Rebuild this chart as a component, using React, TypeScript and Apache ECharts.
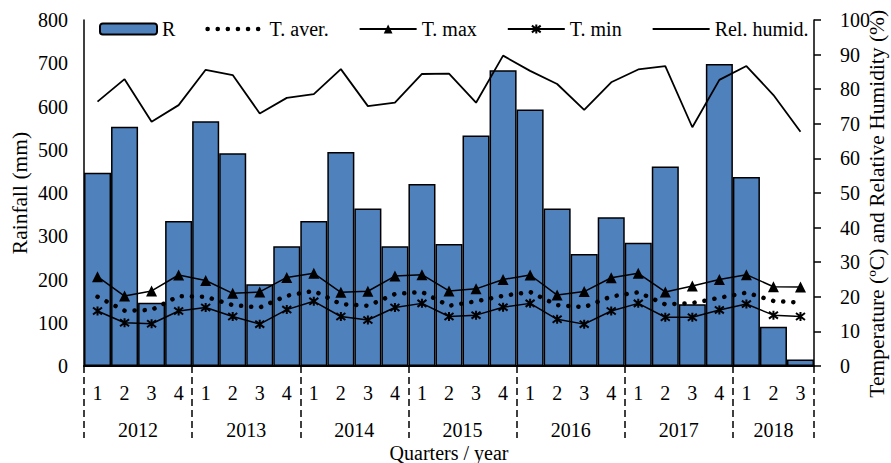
import React, { useEffect, useRef } from "react";
import * as echarts from "echarts";

const years = ["2012", "2013", "2014", "2015", "2016", "2017", "2018"];
const quartersPerYear = [4, 4, 4, 4, 4, 4, 3];
const categories: string[] = [];
years.forEach((y, i) => {
  for (let q = 1; q <= quartersPerYear[i]; q++) categories.push(y + " Q" + q);
});

const rainfall = [447, 553, 146, 335, 566, 492, 189, 277, 335, 495, 364, 277, 421, 282, 533, 684, 593, 364, 259, 344, 285, 461, 143, 698, 437, 91, 15];
const tAver = [20.0, 16.0, 16.2, 20.2, 20.0, 17.6, 16.9, 20.3, 21.7, 17.9, 17.4, 20.8, 21.4, 17.4, 18.7, 20.3, 21.4, 17.6, 17.0, 20.1, 21.3, 17.8, 18.2, 19.7, 21.2, 18.8, 18.3];
const tMax = [25.8, 20.2, 21.7, 26.3, 24.7, 21.0, 21.4, 25.6, 26.8, 21.3, 21.6, 26.0, 26.4, 21.7, 22.3, 25.0, 26.3, 20.5, 21.5, 25.5, 26.8, 21.4, 23.1, 25.0, 26.4, 22.9, 22.8];
const tMin = [15.9, 12.5, 12.2, 15.9, 16.9, 14.3, 12.1, 16.3, 18.7, 14.3, 13.3, 16.9, 18.1, 14.3, 14.7, 17.0, 18.1, 13.5, 12.1, 15.9, 18.1, 14.1, 14.1, 16.2, 17.9, 14.7, 14.3];
const relHumid = [76.4, 82.9, 70.6, 75.4, 85.6, 84.1, 73.0, 77.5, 78.6, 85.8, 75.1, 76.1, 84.4, 84.5, 76.1, 89.7, 85.3, 81.5, 74.0, 82.0, 85.7, 86.7, 69.0, 82.7, 86.7, 78.3, 67.7];

// year boundaries and year label centers (in quarter units)
const boundaries: number[] = [0];
const yearCenters: number[] = [];
{
  let acc = 0;
  quartersPerYear.forEach((n) => {
    yearCenters.push(acc + n / 2);
    acc += n;
    boundaries.push(acc);
  });
}

const FONT = "Liberation Serif";
const STAR = "path://M0,0L10,10M10,0L0,10M5,-1.5L5,11.5";
const noSymbol = { color: "rgba(0,0,0,0)", borderColor: "rgba(0,0,0,0)", borderWidth: 0 };
const dotLine = { color: "#000", width: 4.5, type: [0.1, 10], cap: "round" };

export default function App() {
  const ref = useRef<HTMLDivElement>(null);
  useEffect(() => {
    if (!ref.current) return;
    const chart = echarts.init(ref.current, null, { renderer: "svg" });
    const txt = { fontFamily: FONT, fontSize: 20, color: "#000" };
    chart.setOption({
      animation: false,
      textStyle: { fontFamily: FONT, color: "#000" },
      grid: { left: 84, right: 77, top: 20, bottom: 97, containLabel: false, outerBoundsMode: "none" },
      legend: {
        left: 94,
        top: 14,
        itemWidth: 57,
        itemHeight: 11,
        itemGap: 30,
        textStyle: { ...txt },
        data: [
          { name: "R" },
          { name: "T. aver.", itemStyle: noSymbol, lineStyle: dotLine },
          { name: "T. max" },
          { name: "T. min" },
          { name: "Rel. humid.", itemStyle: noSymbol },
        ],
      },
      xAxis: [
        {
          type: "category",
          data: categories,
          position: "bottom",
          axisLine: { show: true, lineStyle: { color: "#000", width: 2 } },
          axisTick: { show: false },
          axisLabel: {
            ...txt,
            margin: 17,
            interval: 0,
            formatter: (v: string) => v.split(" Q")[1],
          },
          name: "Quarters / year",
          nameLocation: "middle",
          nameGap: 77,
          nameMoveOverlap: false,
          nameTextStyle: { ...txt },
          splitLine: { show: false },
        },
        {
          type: "value",
          min: 0,
          max: categories.length,
          position: "bottom",
          axisLine: { show: false },
          axisTick: {
            show: true,
            customValues: boundaries,
            length: 72,
            lineStyle: { color: "#000", width: 1.5, type: [7, 4] },
          },
          axisLabel: {
            ...txt,
            margin: 54,
            customValues: yearCenters,
            formatter: (v: number) => {
              const i = yearCenters.findIndex((c) => Math.abs(c - v) < 1e-6);
              return i >= 0 ? years[i] : "";
            },
          },
          splitLine: { show: false },
        },
      ],
      yAxis: [
        {
          type: "value",
          min: 0,
          max: 800,
          interval: 100,
          position: "left",
          name: "Rainfall (mm)",
          nameLocation: "middle",
          nameGap: 53,
          nameMoveOverlap: false,
          nameRotate: 90,
          nameTextStyle: { ...txt, fontSize: 21.5 },
          axisLine: { show: true, lineStyle: { color: "#000", width: 1.5 } },
          axisTick: { show: false },
          axisLabel: { ...txt, margin: 16 },
          splitLine: { show: false },
        },
        {
          type: "value",
          min: 0,
          max: 100,
          interval: 10,
          position: "right",
          alignTicks: false,
          name: "Temperature (ºC) and Relative Humidity (%)\u00A0\u00A0\u00A0\u00A0",
          nameLocation: "middle",
          nameGap: 52,
          nameMoveOverlap: false,
          nameRotate: 90,
          nameTextStyle: { ...txt, fontSize: 21.5 },
          axisLine: { show: true, lineStyle: { color: "#000", width: 1.5 } },
          axisTick: { show: true, inside: false, length: 7, lineStyle: { color: "#000", width: 1.5 } },
          axisLabel: { ...txt, margin: 26 },
          splitLine: { show: false },
        },
      ],
      series: [
        {
          name: "R",
          type: "bar",
          xAxisIndex: 0,
          yAxisIndex: 0,
          data: rainfall,
          barCategoryGap: "0%",
          itemStyle: { color: "#4F81BD", borderColor: "#000", borderWidth: 1.5 },
        },
        {
          name: "T. aver.",
          type: "line",
          xAxisIndex: 0,
          yAxisIndex: 1,
          data: tAver,
          symbol: "none",
          lineStyle: dotLine,
          itemStyle: { color: "#000" },
        },
        {
          name: "T. max",
          type: "line",
          xAxisIndex: 0,
          yAxisIndex: 1,
          data: tMax,
          symbol: "triangle",
          symbolSize: 11,
          lineStyle: { color: "#000", width: 1.5 },
          itemStyle: { color: "#000" },
        },
        {
          name: "T. min",
          type: "line",
          xAxisIndex: 0,
          yAxisIndex: 1,
          data: tMin,
          symbol: STAR,
          symbolSize: 9,
          lineStyle: { color: "#000", width: 1.5 },
          itemStyle: { color: "#000", borderColor: "#000", borderWidth: 2 },
        },
        {
          name: "Rel. humid.",
          type: "line",
          xAxisIndex: 0,
          yAxisIndex: 1,
          data: relHumid,
          symbol: "none",
          lineStyle: { color: "#000", width: 1.8 },
          itemStyle: { color: "#000" },
        },
      ],
    });
    return () => chart.dispose();
  }, []);
  return <div ref={ref} style={{ width: 891, height: 463, position: "absolute", left: 0, top: 0 }} />;
}
